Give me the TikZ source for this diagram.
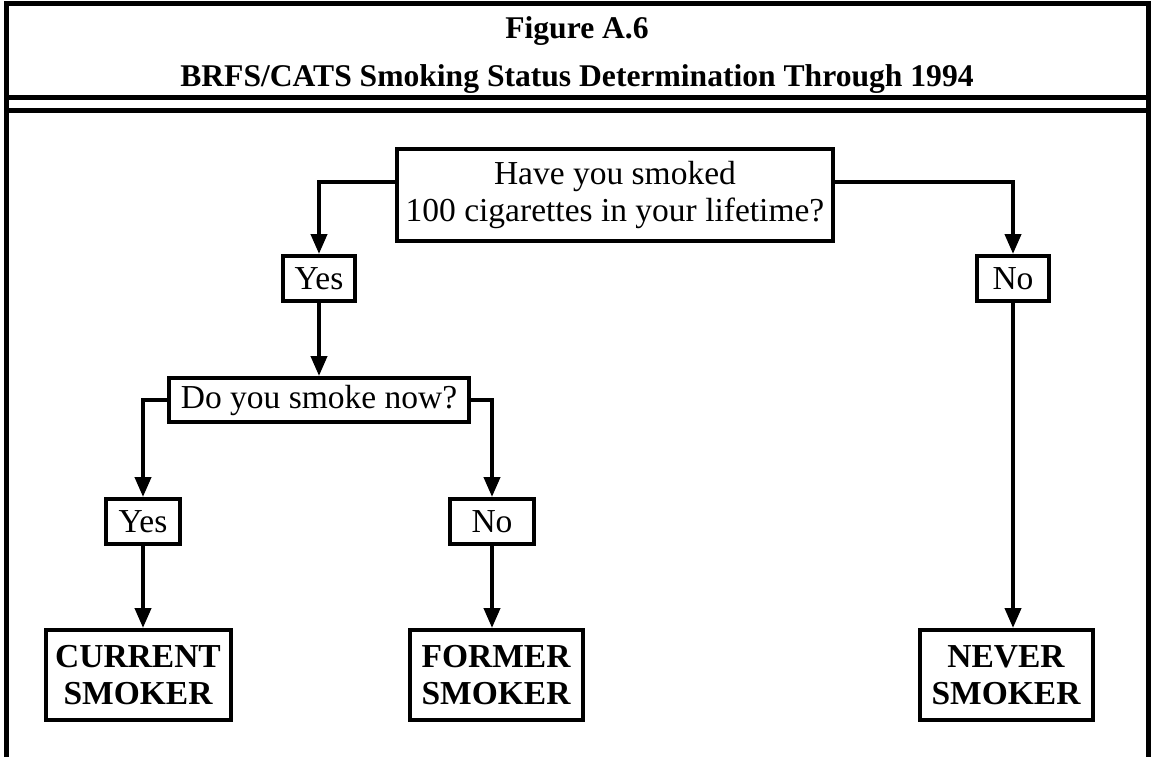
\documentclass[tikz,border=0pt]{standalone}
\usepackage{fontspec}
\setmainfont{Liberation Serif}
\usepackage{tikz}
\usetikzlibrary{arrows.meta, positioning}
\tikzstyle{qbox} = [rectangle, draw=black, line width=4pt, inner sep=0pt,
align=center, font=\fontsize{33.5}{37}\selectfont]
\tikzstyle{endbox} = [qbox, minimum width=173pt, minimum height=90pt,
font=\fontsize{33.5}{37}\selectfont\bfseries]
\tikzstyle{arrow} = [-{Triangle[length=20pt, width=16pt]}, line width=4pt]
\tikzstyle{frame} = [line width=5pt]
\tikzstyle{headline} = [anchor=base, inner sep=0pt, font=\fontsize{31.6}{38}\selectfont\bfseries]

\begin{document}
\begin{tikzpicture}[x=1pt, y=-1pt]
    \useasboundingbox (0,0) rectangle (1151,757);
    \draw[frame] (6,757) -- (6,4) -- (1148,4) -- (1148,757);
    \draw[frame] (6,98) -- (1148,98);
    \draw[frame] (6,111) -- (1148,111);
    \node (figno)   [headline] at (577,39) {Figure A.6};
    \node (heading) [headline] at (577,87) {BRFS/CATS Smoking Status Determination Through 1994};

    \node (smoked)  [qbox, minimum width=436pt, minimum height=92pt] at (615,195) {Have you smoked\\100 cigarettes in your lifetime?};
    \node (yes)     [qbox, minimum width=72pt, minimum height=45pt] at (319,278.5) {Yes};
    \node (no)      [qbox, minimum width=72pt, minimum height=45pt] at (1013,278.5) {No};
    \node (now)     [qbox, minimum width=300pt, minimum height=44pt] at (319,400) {Do you smoke now?};
    \node (nowyes)  [qbox, minimum width=74pt, minimum height=45pt] at (143,521.5) {Yes};
    \node (nowno)   [qbox, minimum width=84pt, minimum height=45pt] at (492,521.5) {No};
    \node (current) [endbox, minimum width=185pt] at (138,675) {CURRENT\\SMOKER};
    \node (former)  [endbox] at (496,675) {FORMER\\SMOKER};
    \node (never)   [endbox] at (1006,675) {NEVER\\SMOKER};

    \draw[arrow] ([yshift=13pt]smoked.west) -| (yes.north);
    \draw[arrow] ([yshift=13pt]smoked.east) -| (no.north);
    \draw[arrow] (yes) -- (now);
    \draw[arrow] (now.west) -| (nowyes.north);
    \draw[arrow] (now.east) -| (nowno.north);
    \draw[arrow] (nowyes.south) -- (nowyes.south |- current.north);
    \draw[arrow] (nowno.south) -- (nowno.south |- former.north);
    \draw[arrow] (no.south) -- (no.south |- never.north);
\end{tikzpicture}
\end{document}
